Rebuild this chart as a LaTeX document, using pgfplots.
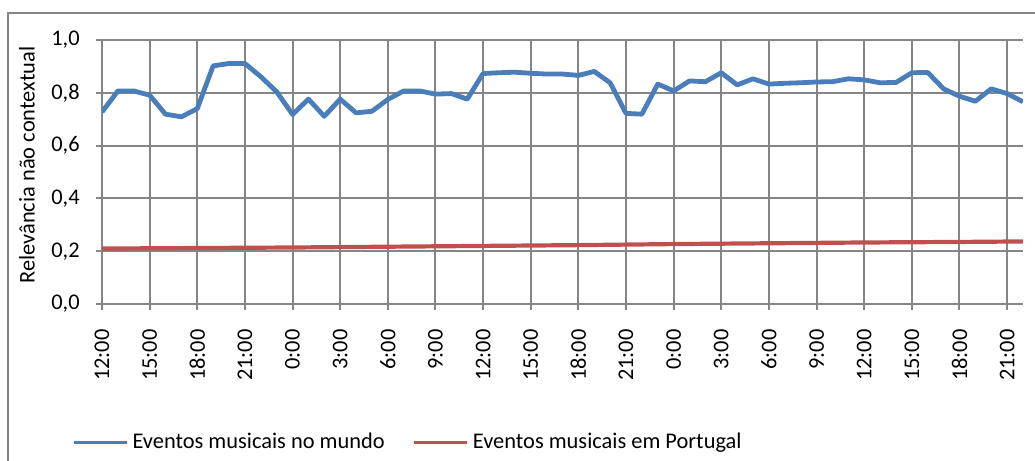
\documentclass[border=0pt]{standalone}
\usepackage{pgfplots}
\pgfplotsset{compat=1.18}
\usepackage{fontspec}
\setmainfont{Carlito}
\definecolor{mundo}{RGB}{74,126,187}
\definecolor{portugal}{RGB}{192,80,77}
\definecolor{gridgray}{RGB}{134,134,134}

\begin{document}
\fontsize{11.2}{13.4}\selectfont
\begin{tikzpicture}
	% page = 1035 x 461 px at 0.5pt per px
	\path[use as bounding box] (0pt,0pt) rectangle (517.5pt,230.5pt);
	\draw[gridgray, line width=1pt] (3.75pt,-10pt) -- (3.75pt,223.8pt) -- (530pt,223.8pt);
	\node[rotate=90] at (13.5pt,148pt) {Relevância não contextual};
	\begin{axis}[
			at={(51pt,78.5pt)}, anchor=south west,
			scale only axis, width=460.5pt, height=132pt,
			xmin=0, xmax=58, ymin=0, ymax=1,
			xtick={0,3,...,57},
			xticklabels={12:00,15:00,18:00,21:00,0:00,3:00,6:00,9:00,12:00,15:00,18:00,21:00,0:00,3:00,6:00,9:00,12:00,15:00,18:00,21:00},
			ytick={0,0.2,0.4,0.6,0.8,1},
			yticklabel={\pgfmathprintnumber[fixed,fixed zerofill,precision=1,use comma,assume math mode=true]{\tick}},
			grid=major, major grid style={gridgray, line width=1pt},
			axis lines=left, axis line style={-, gridgray, line width=1pt},
			tick align=outside, major tick length=3pt,
			tick style={gridgray, line width=1pt},
			xticklabel style={rotate=90, anchor=east, inner sep=0pt},
			yticklabel style={anchor=east, inner sep=0pt},
			xticklabel shift=9.5pt, yticklabel shift=8pt,
			legend columns=2,
			legend cell align=left,
			legend style={at={(axis description cs:-0.0326,-0.5246)}, anchor=west,
					draw=none, fill=none, inner sep=0pt,
					/tikz/every even column/.append style={column sep=12pt}},
			legend image code/.code={\draw[#1, line width=1.6pt] (0pt,0pt) -- (26.5pt,0pt);},
		]
		\addplot[mundo, line width=2.4pt, line join=round] coordinates {
				(0,0.727) (1,0.807) (2,0.807) (3,0.791) (4,0.719) (5,0.709) (6,0.740) (7,0.902)
				(8,0.911) (9,0.911) (10,0.861) (11,0.804) (12,0.718) (13,0.776) (14,0.711) (15,0.776)
				(16,0.724) (17,0.730) (18,0.775) (19,0.807) (20,0.807) (21,0.795) (22,0.797) (23,0.776)
				(24,0.873) (25,0.876) (26,0.878) (27,0.874) (28,0.871) (29,0.871) (30,0.866) (31,0.881)
				(32,0.838) (33,0.722) (34,0.719) (35,0.833) (36,0.807) (37,0.845) (38,0.842) (39,0.876)
				(40,0.830) (41,0.853) (42,0.833) (43,0.836) (44,0.838) (45,0.841) (46,0.842) (47,0.853)
				(48,0.849) (49,0.838) (50,0.839) (51,0.876) (52,0.877) (53,0.815) (54,0.787) (55,0.768)
				(56,0.815) (57,0.797) (58,0.766)};
		\addlegendentry{Eventos musicais no mundo}
		\addplot[portugal, line width=2.1pt] coordinates {
				(0,0.210) (6,0.212) (12,0.214) (18,0.217) (24,0.220) (30,0.223) (36,0.227)
				(42,0.230) (48,0.233) (54,0.235) (58,0.237)};
		\addlegendentry{Eventos musicais em Portugal}
	\end{axis}
\end{tikzpicture}
\end{document}
